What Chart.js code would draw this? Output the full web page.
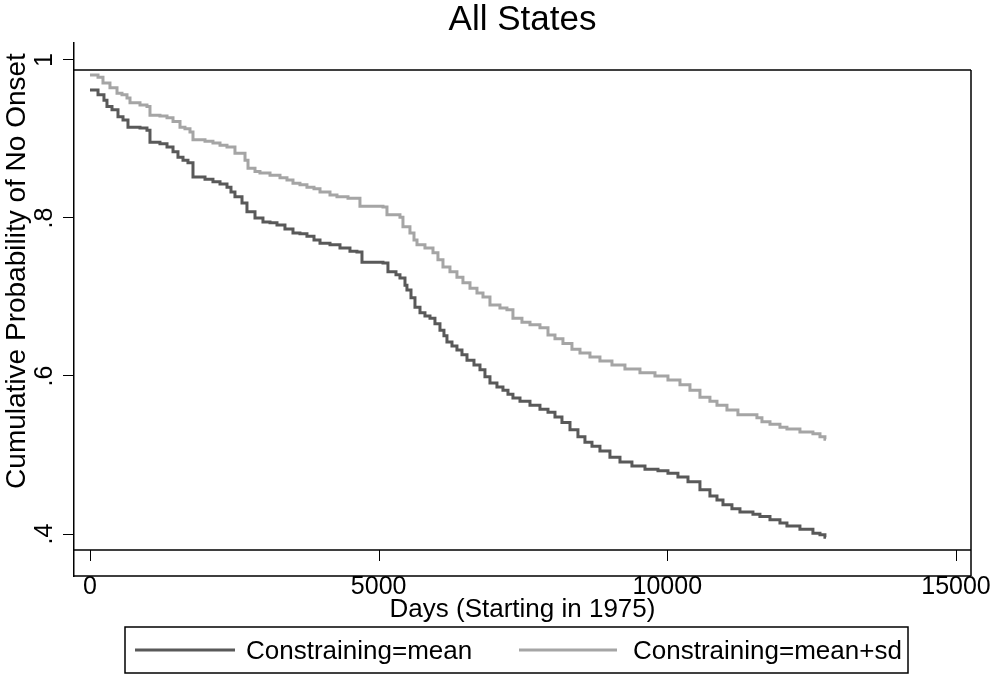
<!DOCTYPE html>
<html>
<head>
<meta charset="utf-8">
<script src="https://cdn.jsdelivr.net/npm/chart.js@4"></script>
<style>
  body { margin: 0; background: #fff; }
  canvas { display: block; }
</style>
</head>
<body>
<canvas id="kmChart" width="994" height="683"></canvas>
<script>
// survival curves (days, cumulative probability)
const meanDays = [0, 139, 242, 294, 381, 485, 572, 658, 866, 987, 1039, 1212, 1334, 1438, 1524, 1611, 1697, 1784, 1992, 2130, 2252, 2373, 2442, 2511, 2633, 2719, 2858, 2996, 3118, 3239, 3377, 3516, 3637, 3758, 3880, 3984, 4157, 4330, 4503, 4624, 4711, 5075, 5161, 5300, 5369, 5456, 5490, 5560, 5629, 5716, 5802, 5889, 5975, 6062, 6131, 6183, 6270, 6356, 6443, 6530, 6651, 6755, 6841, 6928, 7049, 7153, 7240, 7326, 7448, 7621, 7794, 7933, 8054, 8175, 8314, 8452, 8573, 8695, 8833, 9006, 9180, 9387, 9613, 9838, 10011, 10184, 10358, 10565, 10738, 10860, 10964, 11119, 11258, 11483, 11604, 11778, 11951, 12072, 12297, 12522, 12644, 12730, 12748];
const meanSurv = [0.962, 0.956, 0.949, 0.941, 0.937, 0.928, 0.924, 0.915, 0.914, 0.911, 0.896, 0.894, 0.890, 0.884, 0.877, 0.873, 0.870, 0.852, 0.849, 0.846, 0.843, 0.839, 0.833, 0.827, 0.819, 0.808, 0.800, 0.795, 0.794, 0.791, 0.786, 0.781, 0.780, 0.777, 0.772, 0.768, 0.766, 0.762, 0.758, 0.757, 0.744, 0.743, 0.732, 0.728, 0.724, 0.715, 0.709, 0.699, 0.687, 0.680, 0.676, 0.673, 0.666, 0.658, 0.651, 0.643, 0.638, 0.633, 0.627, 0.620, 0.614, 0.608, 0.599, 0.591, 0.586, 0.582, 0.577, 0.572, 0.568, 0.563, 0.558, 0.554, 0.548, 0.541, 0.532, 0.523, 0.516, 0.511, 0.505, 0.497, 0.491, 0.486, 0.482, 0.480, 0.477, 0.472, 0.466, 0.456, 0.448, 0.443, 0.437, 0.432, 0.428, 0.425, 0.422, 0.418, 0.414, 0.410, 0.406, 0.401, 0.399, 0.396, 0.396];

const sdDays = [0, 139, 225, 346, 468, 554, 641, 693, 866, 987, 1039, 1212, 1334, 1438, 1559, 1645, 1732, 1784, 1992, 2130, 2252, 2373, 2511, 2685, 2737, 2858, 2944, 3118, 3291, 3412, 3516, 3637, 3758, 3880, 3984, 4157, 4278, 4469, 4676, 5075, 5144, 5369, 5421, 5542, 5612, 5664, 5802, 5941, 6027, 6114, 6235, 6356, 6460, 6582, 6703, 6807, 6928, 7101, 7222, 7326, 7482, 7621, 7794, 7933, 8054, 8192, 8348, 8487, 8660, 8833, 9041, 9266, 9526, 9786, 10011, 10219, 10392, 10565, 10738, 10860, 11033, 11223, 11552, 11639, 11778, 11951, 12072, 12297, 12522, 12644, 12730, 12748];
const sdSurv = [0.981, 0.978, 0.971, 0.965, 0.958, 0.956, 0.952, 0.946, 0.943, 0.941, 0.930, 0.929, 0.927, 0.922, 0.915, 0.913, 0.909, 0.899, 0.897, 0.895, 0.892, 0.890, 0.882, 0.873, 0.863, 0.859, 0.857, 0.854, 0.851, 0.848, 0.844, 0.842, 0.839, 0.837, 0.833, 0.829, 0.827, 0.825, 0.815, 0.814, 0.804, 0.801, 0.789, 0.781, 0.772, 0.766, 0.762, 0.756, 0.747, 0.738, 0.732, 0.725, 0.718, 0.711, 0.705, 0.700, 0.690, 0.686, 0.684, 0.673, 0.668, 0.665, 0.661, 0.652, 0.647, 0.641, 0.634, 0.629, 0.624, 0.619, 0.614, 0.609, 0.604, 0.600, 0.595, 0.589, 0.582, 0.573, 0.568, 0.563, 0.557, 0.551, 0.547, 0.542, 0.539, 0.535, 0.533, 0.529, 0.527, 0.523, 0.520, 0.520];

const seriesLabels = ['Constraining=mean', 'Constraining=mean+sd'];
const xTicks = [0, 5000, 10000, 15000];
const xTickLabels = ['0', '5000', '10000', '15000'];
const yTicks = [0.4, 0.6, 0.8, 1];
const yTickLabels = ['.4', '.6', '.8', '1'];

const FONT = "'Liberation Sans', Arial, sans-serif";
const colors = ['#595959', '#a5a5a5'];

function toPoints(xs, ys) {
    return xs.map((x, i) => ({ x: x, y: ys[i] }));
}

// frame, offset axes, titles and legend (Stata style)
const stataFrame = {
    id: 'stataFrame',
    afterDraw(chart) {
        const ctx = chart.ctx;
        const xs = chart.scales.x;
        const ys = chart.scales.y;
        const area = chart.chartArea;
        const boxTop = 70, boxBottom = 550;

        ctx.save();
        ctx.strokeStyle = '#000';
        ctx.lineWidth = 1.5;

        // plot box
        ctx.beginPath();
        ctx.moveTo(area.left, boxTop);
        ctx.lineTo(area.right, boxTop);
        ctx.moveTo(area.right, boxTop);
        ctx.lineTo(area.right, area.bottom);
        ctx.moveTo(area.left, boxBottom);
        ctx.lineTo(area.right, boxBottom);
        // x axis line
        ctx.moveTo(area.left, area.bottom);
        ctx.lineTo(area.right, area.bottom);
        ctx.stroke();

        // x tick marks hang below the box
        ctx.lineWidth = 1;
        ctx.beginPath();
        xTicks.forEach(v => {
            const px = Math.round(xs.getPixelForValue(v)) + 0.5;
            ctx.moveTo(px, boxBottom);
            ctx.lineTo(px, boxBottom + 11);
        });
        ctx.stroke();

        ctx.fillStyle = '#000';

        // y tick labels, rotated
        ctx.font = '25px ' + FONT;
        ctx.textAlign = 'center';
        ctx.textBaseline = 'alphabetic';
        yTicks.forEach((v, i) => {
            const py = ys.getPixelForValue(v);
            ctx.save();
            ctx.translate(52, py);
            ctx.rotate(-Math.PI / 2);
            ctx.fillText(yTickLabels[i], 0, 0);
            ctx.restore();
        });

        // y title
        ctx.save();
        ctx.font = '28px ' + FONT;
        ctx.translate(25, 271);
        ctx.rotate(-Math.PI / 2);
        ctx.fillText('Cumulative Probability of No Onset', 0, 0);
        ctx.restore();

        // x title
        ctx.font = '26px ' + FONT;
        ctx.fillText('Days (Starting in 1975)', (area.left + area.right) / 2, 617);

        // main title
        ctx.font = '35px ' + FONT;
        ctx.fillText('All States', (area.left + area.right) / 2, 30);

        // legend
        ctx.lineWidth = 1.5;
        ctx.strokeRect(125, 627, 783, 46);
        ctx.font = '26px ' + FONT;
        ctx.textAlign = 'left';
        const items = [
            { x0: 135, x1: 235, tx: 246 },
            { x0: 519, x1: 617, tx: 633 }
        ];
        items.forEach((it, i) => {
            ctx.strokeStyle = colors[i];
            ctx.lineWidth = 3;
            ctx.beginPath();
            ctx.moveTo(it.x0, 650);
            ctx.lineTo(it.x1, 650);
            ctx.stroke();
            ctx.fillText(seriesLabels[i], it.tx, 659);
        });
        ctx.restore();
    }
};

const ctx = document.getElementById('kmChart').getContext('2d');

const kmChart = new Chart(ctx, {
    type: 'line',
    data: {
        datasets: [{
            label: seriesLabels[0],
            data: toPoints(meanDays, meanSurv),
            borderColor: colors[0],
            borderWidth: 3,
            pointRadius: 0,
            stepped: true,
            fill: false
        }, {
            label: seriesLabels[1],
            data: toPoints(sdDays, sdSurv),
            borderColor: colors[1],
            borderWidth: 3,
            pointRadius: 0,
            stepped: true,
            fill: false
        }]
    },
    options: {
        responsive: false,
        animation: false,
        devicePixelRatio: 1,
        layout: {
            padding: { left: 0, right: 23, top: 43, bottom: 0 }
        },
        plugins: {
            legend: { display: false },
            title: { display: false },
            tooltip: { enabled: false }
        },
        scales: {
            x: {
                type: 'linear',
                min: -277,
                max: 15260,
                grid: { display: false },
                border: { display: false },
                ticks: {
                    color: '#000',
                    font: { family: FONT, size: 25 },
                    padding: -12,
                    maxRotation: 0,
                    autoSkip: false,
                    callback: (value) => {
                        const i = xTicks.indexOf(value);
                        return i >= 0 ? xTickLabels[i] : '';
                    }
                },
                afterBuildTicks: scale => {
                    scale.ticks = xTicks.map(v => ({ value: v }));
                },
                afterFit: scale => {
                    scale.height = 107;
                }
            },
            y: {
                type: 'linear',
                min: 0.34684,
                max: 1.0215,
                grid: {
                    display: true,
                    drawOnChartArea: false,
                    drawTicks: true,
                    tickLength: 11,
                    color: '#000',
                    lineWidth: 1
                },
                border: { display: true, color: '#000', width: 1.5 },
                ticks: { display: false },
                afterBuildTicks: scale => {
                    scale.ticks = yTicks.map(v => ({ value: v }));
                },
                afterFit: scale => {
                    scale.width = 74;
                }
            }
        }
    },
    plugins: [stataFrame]
});
</script>
</body>
</html>
